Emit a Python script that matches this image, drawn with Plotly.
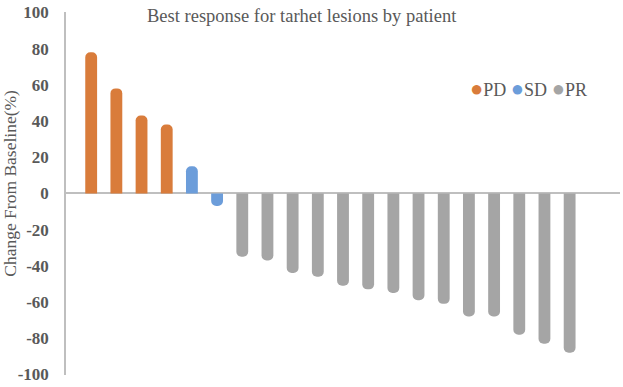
import plotly.graph_objects as go

# Data
groups = ["PD", "SD", "PR"]
colors = {"PD": "#D97C3B", "SD": "#6C9DDA", "PR": "#A5A5A5"}
pd_values = [78, 58, 43, 38]
sd_values = [15, -7]
pr_values = [-35, -37, -44, -46, -51, -53, -55, -59, -61, -68, -68, -78, -83, -88]
title_text = "Best response for tarhet lesions by patient"
y_title = "Change From Baseline(%)"
y_ticks = [100, 80, 60, 40, 20, 0, -20, -40, -60, -80, -100]

series = {"PD": pd_values, "SD": sd_values, "PR": pr_values}

fig = go.Figure()
start = 0
for g in groups:
    vals = series[g]
    xs = list(range(start, start + len(vals)))
    start += len(vals)
    fig.add_trace(go.Bar(x=xs, y=vals, name=g, marker=dict(color=colors[g], line=dict(width=0)),
                         width=0.47, showlegend=False))

serif = "Liberation Serif"
legend_html = "&nbsp;".join(
    f'<span style="color:{colors[g]};font-size:22px">●</span>{g}' for g in groups
)

fig.update_layout(
    width=623, height=387,
    margin=dict(l=66, r=3, t=8, b=7),
    paper_bgcolor="white", plot_bgcolor="white",
    barmode="overlay",
    barcornerradius="50%",
    showlegend=False,
    xaxis=dict(range=[-1, 21], showticklabels=False, showgrid=False, zeroline=False,
               showline=False, ticks=""),
    yaxis=dict(range=[-100.3, 100.2], tickvals=y_ticks, ticktext=[str(v) for v in y_ticks],
               showgrid=False, zeroline=True, zerolinecolor="#BFBFBF", zerolinewidth=1.5,
               showline=True, linecolor="#BFBFBF", linewidth=1.5, ticks="",
               ticklabelstandoff=12, ticklabeloverflow="allow",
               tickfont=dict(family=serif, size=17, color="#595959", weight="bold")),
    annotations=[
        dict(text=title_text, xref="paper", yref="paper", x=(302 - 66) / 554, y=1,
             yshift=-4, xanchor="center", yanchor="middle", showarrow=False,
             font=dict(family=serif, size=18.5, color="#595959")),
        dict(text=y_title, xref="paper", yref="paper", x=-66 / 554 + 10 / 554, y=(380 - 184) / 372,
             xanchor="center", yanchor="middle", textangle=-90, showarrow=False,
             font=dict(family=serif, size=17.5, color="#595959")),
        dict(text=legend_html, xref="paper", yref="paper", x=(528 - 66) / 554, y=(380 - 86) / 372,
             xanchor="center", yanchor="middle", showarrow=False,
             font=dict(family=serif, size=18, color="#595959")),
    ],
)

fig.write_html("out.html")
